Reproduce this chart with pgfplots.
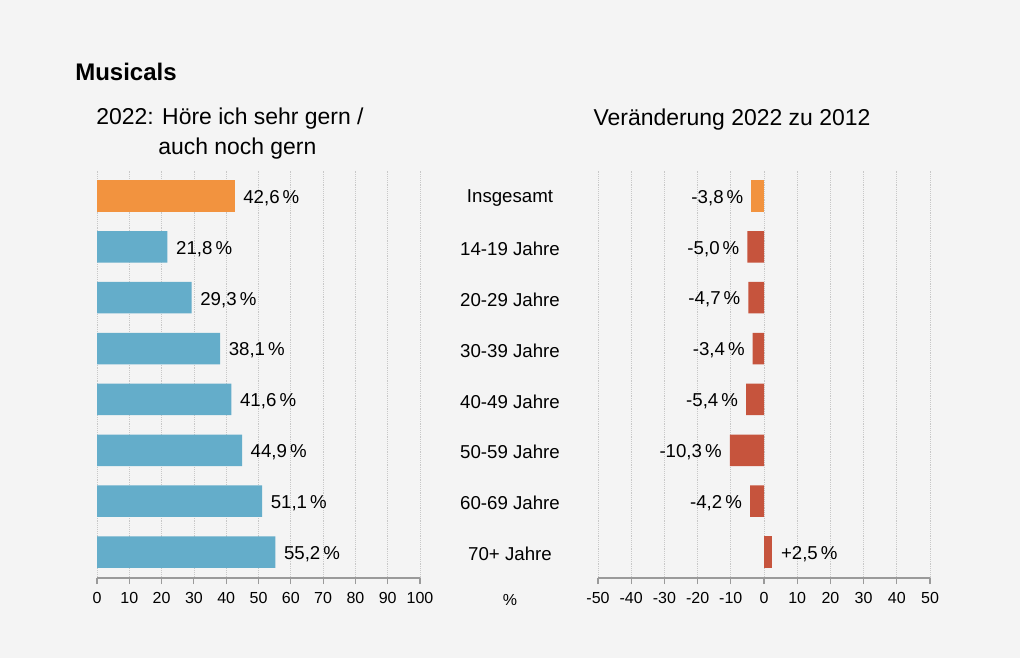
\documentclass[border=0pt]{standalone}
\usepackage{pgfplots}
\pgfplotsset{compat=1.18}
\usepackage{fontspec}
\setmainfont{Liberation Sans}

\definecolor{bg}{HTML}{F4F4F4}
\definecolor{corange}{HTML}{F2933F}
\definecolor{cblue}{HTML}{64ADCA}
\definecolor{cred}{HTML}{C6543D}
\definecolor{gridgray}{HTML}{C8C8C8}
\definecolor{axisgray}{HTML}{9A9A9A}

\tikzset{barlab/.style={font=\fontsize{14}{16}\selectfont, yshift=-1.5pt}}
\pgfplotsset{
  panel/.style={
    scale only axis, height=306pt,
    ymin=-0.51, ymax=7.51,
    axis x line*=bottom,
    axis y line*=right,
    y axis line style={draw=none},
    ytick style={draw=none},
    x axis line style={draw=axisgray, line width=0.8pt},
    xtick style={draw=axisgray, line width=0.8pt},
    tick align=outside, major tick length=4.5pt,
    xmajorgrids, major grid style={gridgray, densely dotted, line width=0.6pt},
    xticklabel style={font=\fontsize{12}{14}\selectfont, yshift=-3pt},
    /pgf/number format/assume math mode=true,
    clip=false,
  },
}

\begin{document}
\begin{tikzpicture}
\fill[bg] (0pt,0pt) rectangle (765pt,-493.5pt);

\node[anchor=west, inner sep=0pt, font=\fontsize{18}{20}\selectfont\bfseries] at (56.25pt,-54pt) {Musicals};
\node[align=center, inner sep=0pt, font=\fontsize{17.2}{22.5}\selectfont] at (172.5pt,-100.5pt) {2022: Höre ich sehr gern /\\\hspace*{11pt}auch noch gern};
\node[inner sep=0pt, font=\fontsize{17.2}{22.5}\selectfont] at (549pt,-90pt) {Veränderung 2022 zu 2012};
\node[inner sep=0pt, font=\fontsize{12}{14}\selectfont] at (382.5pt,-450pt) {\%};

% left panel: share 2022
\begin{axis}[panel,
  at={(72.75pt,-433.5pt)}, anchor=south west, width=242.25pt,
  xmin=0, xmax=100, xtick={0,10,...,100},
  ytick={0,...,7},
  yticklabels={70+ Jahre, 60-69 Jahre, 50-59 Jahre, 40-49 Jahre, 30-39 Jahre, 20-29 Jahre, 14-19 Jahre, Insgesamt},
  yticklabel style={anchor=center, xshift=63pt, yshift=-1.5pt, font=\fontsize{14}{16}\selectfont},
]
\addplot[xbar, bar shift=0pt, bar width=0.62, fill=corange, draw=none,
  point meta=explicit symbolic, nodes near coords,
  nodes near coords style={barlab, anchor=west, xshift=3pt}]
  coordinates {(42.6,7) [42,6\,\%]};
\addplot[xbar, bar shift=0pt, bar width=0.62, fill=cblue, draw=none,
  point meta=explicit symbolic, nodes near coords,
  nodes near coords style={barlab, anchor=west, xshift=3pt}]
  coordinates {
    (21.8,6) [21,8\,\%]
    (29.3,5) [29,3\,\%]
    (38.1,4) [38,1\,\%]
    (41.6,3) [41,6\,\%]
    (44.9,2) [44,9\,\%]
    (51.1,1) [51,1\,\%]
    (55.2,0) [55,2\,\%]
  };
\end{axis}

% right panel: change 2022 vs 2012
\begin{axis}[panel,
  at={(448.5pt,-433.5pt)}, anchor=south west, width=249pt,
  xmin=-50, xmax=50, xtick={-50,-40,...,50},
  ytick=\empty,
]
\addplot[xbar, bar shift=0pt, bar width=0.62, fill=corange, draw=none,
  point meta=explicit symbolic, nodes near coords,
  nodes near coords style={barlab, anchor=east, xshift=-2.5pt}]
  coordinates {(-3.8,7) [-3,8\,\%]};
\addplot[xbar, bar shift=0pt, bar width=0.62, fill=cred, draw=none,
  point meta=explicit symbolic, nodes near coords,
  nodes near coords style={barlab, anchor=east, xshift=-2.5pt}]
  coordinates {
    (-5.0,6) [-5,0\,\%]
    (-4.7,5) [-4,7\,\%]
    (-3.4,4) [-3,4\,\%]
    (-5.4,3) [-5,4\,\%]
    (-10.3,2) [-10,3\,\%]
    (-4.2,1) [-4,2\,\%]
  };
\addplot[xbar, bar shift=0pt, bar width=0.62, fill=cred, draw=none,
  point meta=explicit symbolic, nodes near coords,
  nodes near coords style={barlab, anchor=west, xshift=3pt}]
  coordinates {(2.5,0) [+2,5\,\%]};
\end{axis}
\end{tikzpicture}
\end{document}
